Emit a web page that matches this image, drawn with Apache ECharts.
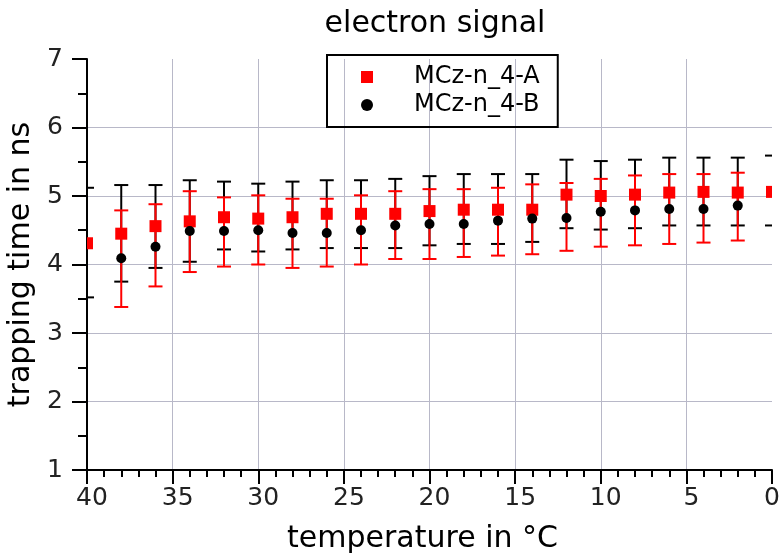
<!DOCTYPE html>
<html>
<head>
<meta charset="utf-8">
<script src="https://cdn.jsdelivr.net/npm/echarts@6/dist/echarts.min.js"></script>
<style>html,body{margin:0;padding:0;background:#fff}#c{width:784px;height:555px}</style>
</head>
<body>
<div id="c"></div>
<script>
// temperatures (axis shows values without sign)
var temps = [40, 38, 36, 34, 32, 30, 28, 26, 24, 22, 20, 18, 16, 14, 12, 10, 8, 6, 4, 2, 0];
var xTicks = [40, 35, 30, 25, 20, 15, 10, 5, 0];
var yTicks = [1, 2, 3, 4, 5, 6, 7];
var nameA = 'MCz-n_4-A';
var nameB = 'MCz-n_4-B';
var valA = [4.31, 4.45, 4.56, 4.63, 4.69, 4.67, 4.69, 4.74, 4.74, 4.74, 4.78, 4.80, 4.80, 4.80, 5.02, 5.00, 5.02, 5.05, 5.06, 5.05, 5.06];
var hiA  = [null, 4.79, 4.88, 5.07, 4.98, 5.01, 4.96, 4.96, 5.01, 5.07, 5.10, 5.10, 5.12, 5.17, 5.19, 5.25, 5.30, 5.32, 5.32, 5.34, null];
var loA  = [null, 3.38, 3.68, 3.89, 3.97, 4.00, 3.95, 3.97, 4.00, 4.08, 4.08, 4.11, 4.13, 4.15, 4.20, 4.26, 4.28, 4.30, 4.32, 4.35, null];
var valB = [null, 4.09, 4.26, 4.49, 4.49, 4.50, 4.46, 4.46, 4.50, 4.57, 4.59, 4.59, 4.64, 4.67, 4.68, 4.77, 4.79, 4.81, 4.81, 4.86, null];
var hiB  = [5.12, 5.16, 5.16, 5.23, 5.21, 5.18, 5.21, 5.23, 5.23, 5.25, 5.29, 5.32, 5.32, 5.32, 5.53, 5.51, 5.53, 5.56, 5.56, 5.56, 5.59];
var loB  = [3.52, 3.75, 3.95, 4.04, 4.22, 4.19, 4.22, 4.24, 4.24, 4.24, 4.28, 4.30, 4.30, 4.33, 4.53, 4.51, 4.53, 4.57, 4.57, 4.57, 4.57];

function pts(vals) {
  var out = [];
  temps.forEach(function (t, i) { if (vals[i] != null) out.push([t, vals[i]]); });
  return out;
}
function bars(lo, hi) {
  var out = [];
  temps.forEach(function (t, i) { if (lo[i] != null && hi[i] != null) out.push([t, lo[i], hi[i]]); });
  return out;
}
function hClip(x1, x2, cs) {
  return [Math.max(x1, cs.x), Math.min(x2, cs.x + cs.width)];
}
function errRender(color) {
  return function (params, api) {
    var cs = params.coordSys;
    var x = api.value(0);
    var p1 = api.coord([x, api.value(1)]);
    var p2 = api.coord([x, api.value(2)]);
    var hw = 7;
    var st = { stroke: color, lineWidth: 2 };
    var c = hClip(p1[0] - hw, p1[0] + hw, cs);
    var children = [
      { type: 'line', shape: { x1: c[0], y1: p1[1], x2: c[1], y2: p1[1] }, style: st },
      { type: 'line', shape: { x1: c[0], y1: p2[1], x2: c[1], y2: p2[1] }, style: st }
    ];
    if (p1[0] > cs.x + 1 && p1[0] < cs.x + cs.width - 1) {
      children.unshift({ type: 'line', shape: { x1: p1[0], y1: p1[1], x2: p2[0], y2: p2[1] }, style: st });
    }
    return { type: 'group', children: children };
  };
}
function squareRender(params, api) {
  var cs = params.coordSys;
  var p = api.coord([api.value(0), api.value(1)]);
  var s = 12;
  var c = hClip(p[0] - s / 2, p[0] + s / 2, cs);
  return { type: 'rect', shape: { x: c[0], y: p[1] - s / 2, width: c[1] - c[0], height: s }, style: { fill: '#ff0000' } };
}
function circleRender(params, api) {
  var p = api.coord([api.value(0), api.value(1)]);
  return { type: 'circle', shape: { cx: p[0], cy: p[1], r: 5 }, style: { fill: '#000000' } };
}

var chart = echarts.init(document.getElementById('c'), null, { renderer: 'canvas' });
var font = 'DejaVu Sans';
var gridColor = '#b8b8c8';
chart.setOption({
  animation: false,
  backgroundColor: '#ffffff',
  title: {
    text: 'electron signal', left: 430, top: 4, textAlign: 'center',
    textStyle: { fontFamily: font, fontSize: 30, fontWeight: 'normal', color: '#000' }
  },
  legend: {
    orient: 'vertical', left: 327, top: 55,
    data: [{ name: nameA, icon: 'rect' }, { name: nameB, icon: 'circle' }],
    itemWidth: 12, itemHeight: 12, itemGap: 2,
    padding: [9, 18, 9, 34],
    borderColor: '#000', borderWidth: 2, backgroundColor: 'transparent',
    textStyle: { fontFamily: font, fontSize: 24, color: '#000', lineHeight: 26, padding: [0, 0, 0, 36] }
  },
  grid: { left: 87, right: 12, top: 59, bottom: 85, outerBoundsMode: 'none', containLabel: false },
  xAxis: {
    type: 'value', inverse: true, min: 0, max: 40, interval: 5,
    name: 'temperature in °C', nameLocation: 'middle', nameGap: 54,
    nameTextStyle: { fontFamily: font, fontSize: 30, color: '#000', padding: [0, 14, 0, 0] },
    axisLine: { onZero: false, lineStyle: { color: '#000', width: 2 } },
    axisTick: { show: true, length: 14, lineStyle: { color: '#000', width: 2 } },
    minorTick: { show: true, splitNumber: 5, length: 7, lineStyle: { color: '#000', width: 2 } },
    splitLine: { show: true, showMinLine: false, showMaxLine: false, lineStyle: { color: gridColor, width: 1 } },
    axisLabel: {
      margin: 16, fontFamily: font, fontSize: 25, color: '#222',
      formatter: function (v) { return v === 0 ? String(v) : '{s|}' + v; },
      rich: { s: { width: 10 } }
    }
  },
  yAxis: {
    type: 'value', min: 1, max: 7, interval: 1,
    name: 'trapping time in ns', nameLocation: 'middle', nameGap: 40,
    nameTextStyle: { fontFamily: font, fontSize: 30, color: '#000' },
    axisLine: { onZero: false, lineStyle: { color: '#000', width: 2 } },
    axisTick: { show: true, length: 15, lineStyle: { color: '#000', width: 2 } },
    minorTick: { show: true, splitNumber: 2, length: 9, lineStyle: { color: '#000', width: 2 } },
    splitLine: { show: true, showMinLine: false, showMaxLine: false, lineStyle: { color: gridColor, width: 1 } },
    axisLabel: { margin: 24, fontFamily: font, fontSize: 25, color: '#222' }
  },
  series: [
    { type: 'custom', name: 'errB', renderItem: errRender('#000000'), data: bars(loB, hiB), encode: { x: 0, y: [1, 2] }, z: 2 },
    { type: 'custom', name: 'errA', renderItem: errRender('#ff0000'), data: bars(loA, hiA), encode: { x: 0, y: [1, 2] }, z: 3 },
    { type: 'custom', name: nameA, renderItem: squareRender, data: pts(valA), encode: { x: 0, y: 1 }, itemStyle: { color: '#ff0000' }, z: 4 },
    { type: 'custom', name: nameB, renderItem: circleRender, data: pts(valB), encode: { x: 0, y: 1 }, itemStyle: { color: '#000000' }, z: 5 }
  ]
});
</script>
</body>
</html>
